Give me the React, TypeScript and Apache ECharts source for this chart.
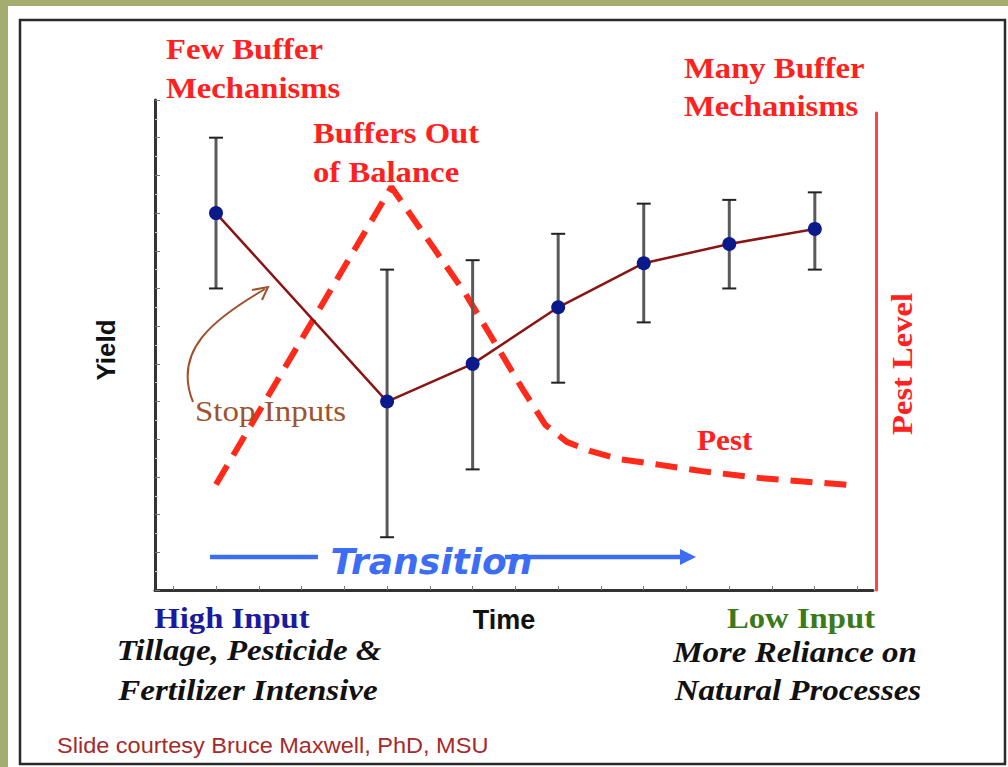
import React, { useEffect, useRef } from "react";
import * as echarts from "echarts";

// ---- data ----
const timeSteps = [0, 2, 3, 4, 5, 6, 7];
const yieldMeans = [10, 5, 6, 7.5, 8.67, 9.18, 9.58];
const yieldLow = [8, 1.4, 3.2, 5.5, 7.1, 8.0, 8.5];
const yieldHigh = [12, 8.5, 8.75, 9.45, 10.25, 10.35, 10.55];
const pestX = [0.0, 2.05, 2.91, 3.59, 3.85, 4.1, 4.37, 4.72, 5.19, 5.66, 6.36, 7.37];
const pestY = [2.8, 10.69, 7.88, 5.31, 4.38, 3.93, 3.69, 3.47, 3.32, 3.16, 2.97, 2.79];

const SERIF = '"Liberation Serif", "Times New Roman", serif';
const SANS = '"Liberation Sans", Arial, sans-serif';
const RED = "#ff2020";

type TOpt = {
  size: number;
  color: string;
  family?: string;
  bold?: boolean;
  italic?: boolean;
  align?: string;
  sx?: number;
  rot?: number;
};

function txt(text: string, x: number, y: number, o: TOpt) {
  return {
    type: "text",
    x,
    y,
    scaleX: o.sx ?? 1,
    rotation: o.rot ?? 0,
    z: 100,
    style: {
      text,
      fill: o.color,
      fontSize: o.size,
      fontFamily: o.family ?? SERIF,
      fontWeight: o.bold ? "bold" : "normal",
      fontStyle: o.italic ? "italic" : "normal",
      align: o.align ?? "left",
      verticalAlign: "middle",
    },
  };
}

export default function App() {
  const ref = useRef<HTMLDivElement>(null);

  useEffect(() => {
    if (!ref.current) return;
    const chart = echarts.init(ref.current, undefined, { renderer: "svg" });

    const errData = timeSteps.map((t, i) => [t, yieldLow[i], yieldHigh[i]]);
    const meanData = timeSteps.map((t, i) => [t, yieldMeans[i]]);
    const pestData = pestX.map((x, i) => [x, pestY[i]]);

    const SX = 1.09;

    const option: any = {
      animation: false,
      backgroundColor: "#a4ad6d",
      grid: [
        { left: 155, right: 135, top: 100, bottom: 177 },
        { left: 173.25, right: 150.75, top: 100, bottom: 177 },
        { left: 155, right: 132, top: 113, bottom: 177 },
      ],
      xAxis: [
        {
          type: "value",
          gridIndex: 0,
          min: -0.713,
          max: 7.68,
          axisLine: { show: true, onZero: false, lineStyle: { color: "#333", width: 3 } },
          axisTick: { show: false },
          axisLabel: { show: false },
          splitLine: { show: false },
        },
        {
          type: "value",
          gridIndex: 1,
          min: -0.5,
          max: 7.5,
          interval: 0.5,
          axisLine: { show: false, onZero: false },
          axisTick: { show: true, inside: true, length: 4, lineStyle: { color: "#777", width: 1 } },
          axisLabel: { show: false },
          splitLine: { show: false },
        },
        {
          type: "value",
          gridIndex: 2,
          show: false,
          min: 0,
          max: 1,
        },
      ],
      yAxis: [
        {
          type: "value",
          gridIndex: 0,
          min: 0,
          max: 13,
          interval: 1,
          axisLine: { show: true, onZero: false, lineStyle: { color: "#333", width: 3 } },
          axisTick: { show: true, inside: true, length: 5, lineStyle: { color: "#777", width: 1 } },
          minorTick: { show: true, splitNumber: 2, length: 3, lineStyle: { color: "#ccc" } },
          axisLabel: { show: false },
          splitLine: { show: false },
        },
        {
          type: "value",
          gridIndex: 1,
          show: false,
          min: 0,
          max: 13,
        },
        {
          type: "value",
          gridIndex: 2,
          position: "right",
          min: 0,
          max: 1,
          axisLine: { show: true, onZero: false, lineStyle: { color: "#ff4545", width: 3 } },
          axisTick: { show: false },
          axisLabel: { show: false },
          splitLine: { show: false },
        },
      ],
      series: [
        {
          name: "Pest",
          type: "line",
          xAxisIndex: 0,
          yAxisIndex: 0,
          data: pestData,
          showSymbol: false,
          symbol: "none",
          z: 1,
          lineStyle: { color: "#ff2a1a", width: 6, type: [22, 12], cap: "butt" },
        },
        {
          name: "Yield range",
          type: "custom",
          xAxisIndex: 0,
          yAxisIndex: 0,
          z: 2,
          data: errData,
          encode: { x: 0, y: [1, 2] },
          renderItem: (params: any, api: any) => {
            const x = api.value(0);
            const lo = api.coord([x, api.value(1)]);
            const hi = api.coord([x, api.value(2)]);
            const w = 7;
            return {
              type: "group",
              children: [
                {
                  type: "line",
                  shape: { x1: lo[0], y1: lo[1], x2: hi[0], y2: hi[1] },
                  style: { stroke: "#5a5a5a", lineWidth: 3 },
                },
                {
                  type: "line",
                  shape: { x1: lo[0] - w, y1: lo[1], x2: lo[0] + w, y2: lo[1] },
                  style: { stroke: "#222", lineWidth: 2 },
                },
                {
                  type: "line",
                  shape: { x1: hi[0] - w, y1: hi[1], x2: hi[0] + w, y2: hi[1] },
                  style: { stroke: "#222", lineWidth: 2 },
                },
              ],
            };
          },
        },
        {
          name: "Yield",
          type: "line",
          xAxisIndex: 0,
          yAxisIndex: 0,
          z: 3,
          data: meanData,
          symbol: "circle",
          symbolSize: 14,
          itemStyle: { color: "#0a1a8a" },
          lineStyle: { color: "#8b1414", width: 2.5 },
        },
      ],
      graphic: [
        {
          type: "rect",
          z: -10,
          shape: { x: 8, y: 6, width: 1000, height: 761 },
          style: { fill: "#ffffff" },
        },
        {
          type: "rect",
          z: -9,
          shape: { x: 20, y: 20, width: 985, height: 744 },
          style: { fill: "none", stroke: "#2a2a2a", lineWidth: 2.5 },
        },
        // Stop inputs arrow
        {
          type: "bezierCurve",
          z: 90,
          shape: { x1: 193, y1: 402, cpx1: 172, cpy1: 350, cpx2: 215, cpy2: 318, x2: 265, y2: 289 },
          style: { stroke: "#a0522d", lineWidth: 2, fill: "none" },
        },
        {
          type: "polyline",
          z: 90,
          shape: { points: [[252, 290], [268, 287], [262, 300]] },
          style: { stroke: "#a0522d", lineWidth: 2, fill: "none" },
        },
        // Transition arrow
        {
          type: "line",
          z: 90,
          shape: { x1: 210, y1: 557, x2: 318, y2: 557 },
          style: { stroke: "#3d6cf5", lineWidth: 4.5 },
        },
        {
          type: "line",
          z: 90,
          shape: { x1: 505, y1: 557, x2: 682, y2: 557 },
          style: { stroke: "#3d6cf5", lineWidth: 4.5 },
        },
        {
          type: "polygon",
          z: 90,
          shape: { points: [[680, 549], [696, 557], [680, 565]] },
          style: { fill: "#3d6cf5" },
        },
        txt("Transition", 431.5, 561, {
          size: 36,
          color: "#3d6cf5",
          family: '"DejaVu Sans", Verdana, sans-serif',
          bold: true,
          italic: true,
          align: "center",
        }),
        // Annotations
        txt("Few Buffer", 166, 49, { size: 30, color: RED, bold: true, sx: SX }),
        txt("Mechanisms", 166, 88, { size: 30, color: RED, bold: true, sx: SX }),
        txt("Buffers Out", 313, 133, { size: 30, color: RED, bold: true, sx: SX }),
        txt("of Balance", 313, 172, { size: 30, color: RED, bold: true, sx: SX }),
        txt("Many Buffer", 684, 68, { size: 30, color: RED, bold: true, sx: SX }),
        txt("Mechanisms", 684, 106, { size: 30, color: RED, bold: true, sx: SX }),
        txt("Pest", 697, 440, { size: 30, color: RED, bold: true, sx: 1.04 }),
        txt("Stop Inputs", 195, 411, { size: 30, color: "#a0522d", sx: 1.1 }),
        txt("Pest Level", 902, 364, {
          size: 30,
          color: RED,
          bold: true,
          align: "center",
          sx: 1.085,
          rot: Math.PI / 2,
        }),
        txt("Yield", 106, 350, {
          size: 26,
          color: "#111",
          family: SANS,
          bold: true,
          align: "center",
          rot: Math.PI / 2,
        }),
        txt("Time", 504, 620, { size: 27, color: "#111", family: SANS, bold: true, align: "center" }),
        txt("High Input", 232, 618, { size: 30, color: "#1a1aa0", bold: true, align: "center", sx: SX }),
        txt("Tillage, Pesticide &", 249, 650, {
          size: 30,
          color: "#111",
          bold: true,
          italic: true,
          align: "center",
          sx: 1.097,
        }),
        txt("Fertilizer Intensive", 248, 690, {
          size: 30,
          color: "#111",
          bold: true,
          italic: true,
          align: "center",
          sx: 1.1,
        }),
        txt("Low Input", 801, 618, { size: 30, color: "#3a7a1a", bold: true, align: "center", sx: SX }),
        txt("More Reliance on", 795, 652, {
          size: 30,
          color: "#111",
          bold: true,
          italic: true,
          align: "center",
          sx: 1.1,
        }),
        txt("Natural Processes", 798, 690, {
          size: 30,
          color: "#111",
          bold: true,
          italic: true,
          align: "center",
          sx: 1.1,
        }),
        txt("Slide courtesy Bruce Maxwell, PhD, MSU", 57, 745, {
          size: 22,
          color: "#a52a2a",
          family: SANS,
          sx: 1.07,
        }),
      ],
    };

    chart.setOption(option);
    return () => chart.dispose();
  }, []);

  return (
    <div
      ref={ref}
      style={{ position: "fixed", left: 0, top: 0, width: 1008, height: 767 }}
    />
  );
}
